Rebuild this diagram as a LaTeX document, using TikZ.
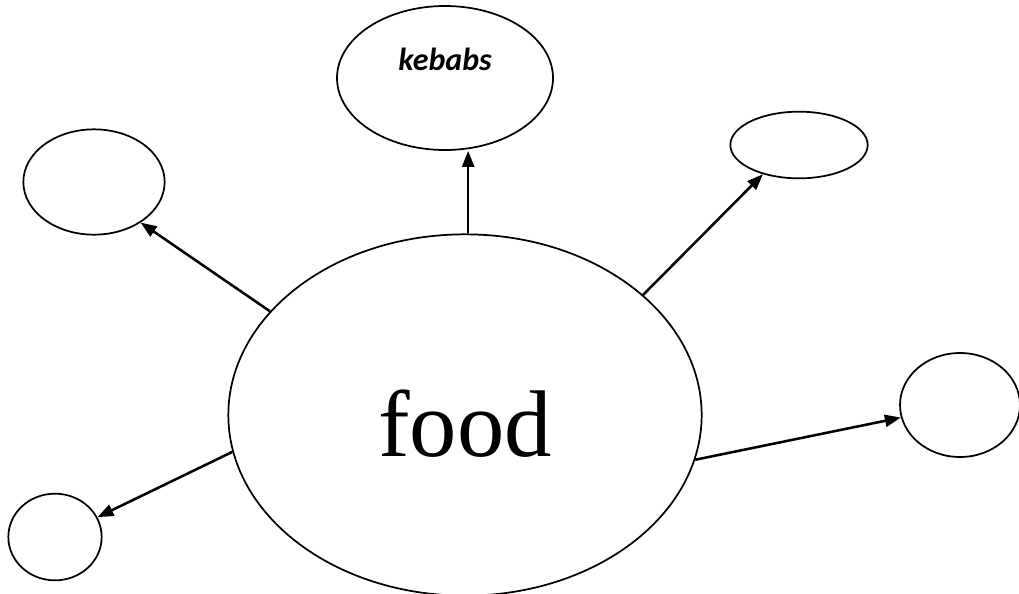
\documentclass[tikz,border=0pt]{standalone}
\usepackage{fontspec}
\setmainfont{Liberation Serif}
\newfontfamily\calibri{Carlito}
\usetikzlibrary{arrows.meta,shapes.geometric}
\tikzset{
    blase/.style={
           ellipse,
           draw=black, line width=1.3pt,
           inner sep=0pt},
    pfeil/.style={
           -{Triangle[length=12pt,width=9pt]},
           black, line width=1.9pt}
    }

\begin{document}
\begin{tikzpicture}[x=0.75pt,y=-0.75pt]
      \useasboundingbox (0,0) rectangle (1019,593);
      \node[blase, minimum width=355pt, minimum height=271pt, text height=62pt, text depth=0pt,
            font=\fontsize{71}{71}\selectfont] (food) at (465,415) {food};
      \node[blase, minimum width=162pt, minimum height=108pt, text height=18pt, text depth=30pt,
            font=\calibri\fontsize{24}{24}\selectfont\bfseries\itshape] (kebabs) at (445,78) {kebabs};
      \node[blase, minimum width=106pt, minimum height=79pt] (nw) at (94,182) {};
      \node[blase, minimum width=103pt, minimum height=50pt] (ne) at (799,145) {};
      \node[blase, minimum width=90pt, minimum height=78pt] (ea) at (960,405) {};
      \node[blase, minimum width=70pt, minimum height=65pt] (sw) at (55,537) {};
      \draw[pfeil] (food.152) -- (nw.-41);
      \draw[pfeil] (food.89) -- (food.89 |- kebabs.south);
      \draw[pfeil] (food.34) -- (ne.-141);
      \draw[pfeil] (food.-11) -- (ea.192);
      \draw[pfeil] (food.189) -- (sw.25);
\end{tikzpicture}
\end{document}
